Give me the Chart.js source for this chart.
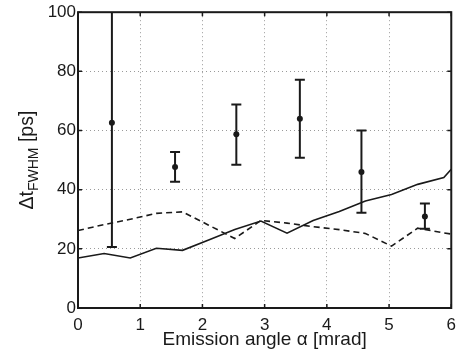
<!DOCTYPE html>
<html>
<head>
<meta charset="utf-8">
<script src="https://cdn.jsdelivr.net/npm/chart.js@4/dist/chart.umd.min.js"></script>
<style>
  html, body { margin: 0; padding: 0; background: #fff; }
  #wrap { width: 463px; height: 357px; }
</style>
</head>
<body>
<div id="wrap"><canvas id="fwhmChart" width="463" height="357"></canvas></div>
<script>
// simulated curves, sampled along the emission angle
const angleGrid = [0, 0.42, 0.84, 1.26, 1.68, 2.1, 2.52, 2.94, 3.36, 3.78, 4.2, 4.62, 5.04, 5.46, 5.88, 6.0];
const solidValues = [16.9, 18.4, 16.9, 20.2, 19.5, 23.0, 26.5, 29.4, 25.3, 29.6, 32.6, 36.2, 38.4, 41.8, 44.1, 46.9];
const dashedValues = [26.2, 28.2, 30.0, 32.0, 32.5, 28.0, 23.5, 29.6, 28.7, 27.5, 26.5, 25.2, 20.9, 27.0, 25.4, 25.0];

// measured points with error bars
const measAngles = [0.545, 1.56, 2.545, 3.566, 4.556, 5.576];
const measValues = [62.6, 47.7, 58.7, 64.0, 46.0, 30.9];
const measLow = [20.6, 42.7, 48.4, 50.8, 32.2, 26.8];
const measHigh = [104, 52.7, 68.8, 77.2, 60.0, 35.3];

const xTicks = [0, 1, 2, 3, 4, 5, 6];
const yTicks = [0, 20, 40, 60, 80, 100];

const FONT = 'Liberation Sans, Arial, Helvetica, sans-serif';
const INK = '#1a1a1a';

const toPoints = (xs, ys) => xs.map((x, i) => ({ x: x, y: ys[i] }));

const errorBars = {
  id: 'errorBars',
  afterDatasetsDraw(chart) {
    const { ctx, chartArea, scales } = chart;
    ctx.save();
    ctx.beginPath();
    ctx.rect(chartArea.left, chartArea.top, chartArea.right - chartArea.left, chartArea.bottom - chartArea.top);
    ctx.clip();
    ctx.strokeStyle = INK;
    ctx.lineWidth = 2;
    measAngles.forEach((a, i) => {
      const px = scales.x.getPixelForValue(a);
      const lo = scales.y.getPixelForValue(measLow[i]);
      const hi = scales.y.getPixelForValue(measHigh[i]);
      ctx.beginPath();
      ctx.moveTo(px, lo); ctx.lineTo(px, hi);
      ctx.moveTo(px - 5, lo); ctx.lineTo(px + 5, lo);
      ctx.moveTo(px - 5, hi); ctx.lineTo(px + 5, hi);
      ctx.stroke();
    });
    ctx.restore();
  }
};

const frame = {
  id: 'frame',
  afterDraw(chart) {
    const { ctx, chartArea: a, scales } = chart;
    ctx.save();
    ctx.strokeStyle = INK;
    ctx.lineWidth = 2;
    ctx.strokeRect(a.left, a.top, a.right - a.left, a.bottom - a.top);
    // inward tick marks on all four sides
    ctx.lineWidth = 1.5;
    ctx.beginPath();
    xTicks.forEach(v => {
      const px = scales.x.getPixelForValue(v);
      ctx.moveTo(px, a.bottom); ctx.lineTo(px, a.bottom - 4);
      ctx.moveTo(px, a.top); ctx.lineTo(px, a.top + 4);
    });
    yTicks.forEach(v => {
      const py = scales.y.getPixelForValue(v);
      ctx.moveTo(a.left, py); ctx.lineTo(a.left + 4, py);
      ctx.moveTo(a.right, py); ctx.lineTo(a.right - 4, py);
    });
    ctx.stroke();

    // y axis title with subscript
    const cy = (a.top + a.bottom) / 2;
    ctx.translate(33, cy);
    ctx.rotate(-Math.PI / 2);
    ctx.fillStyle = INK;
    ctx.textBaseline = 'alphabetic';
    const big = '19.5px ' + FONT, small = '14px ' + FONT;
    ctx.font = big;
    const w1 = ctx.measureText('\u0394t').width;
    const w3 = ctx.measureText(' [ps]').width;
    ctx.font = small;
    const w2 = ctx.measureText('FWHM').width;
    let x0 = -(w1 + w2 + w3) / 2;
    ctx.font = big;
    ctx.fillText('\u0394t', x0, 0);
    ctx.font = small;
    ctx.fillText('FWHM', x0 + w1, 5);
    ctx.font = big;
    ctx.fillText(' [ps]', x0 + w1 + w2, 0);
    ctx.restore();
  }
};

new Chart(document.getElementById('fwhmChart').getContext('2d'), {
  type: 'scatter',
  data: {
    datasets: [
      {
        label: 'measured',
        data: toPoints(measAngles, measValues),
        showLine: false,
        pointRadius: 3,
        pointBackgroundColor: INK,
        pointBorderColor: INK,
        pointBorderWidth: 0,
      },
      {
        label: 'solid',
        data: toPoints(angleGrid, solidValues),
        showLine: true,
        borderColor: INK,
        borderWidth: 1.6,
        pointRadius: 0,
        tension: 0,
      },
      {
        label: 'dashed',
        data: toPoints(angleGrid, dashedValues),
        showLine: true,
        borderColor: INK,
        borderWidth: 1.6,
        borderDash: [6, 4],
        pointRadius: 0,
        tension: 0,
      },
    ],
  },
  options: {
    responsive: false,
    animation: false,
    layout: { padding: { top: 10, right: 7, left: 0, bottom: 0 } },
    plugins: {
      legend: { display: false },
      tooltip: { enabled: false },
    },
    scales: {
      x: {
        type: 'linear',
        min: 0,
        max: 6,
        afterBuildTicks: s => { s.ticks = xTicks.map(v => ({ value: v })); },
        afterFit: s => { s.height = 49; },
        grid: { color: '#9a9a9a', lineWidth: 1, drawTicks: false },
        border: { display: false, dash: [1, 3] },
        ticks: { color: INK, font: { family: FONT, size: 17 }, padding: 7, maxRotation: 0 },
        title: {
          display: true,
          text: 'Emission angle \u03b1 [mrad]',
          color: INK,
          font: { family: FONT, size: 19 },
          padding: { top: 0, bottom: 6 },
        },
      },
      y: {
        type: 'linear',
        min: 0,
        max: 100,
        afterBuildTicks: s => { s.ticks = yTicks.map(v => ({ value: v })); },
        afterFit: s => { s.width = 78; },
        grid: { color: '#9a9a9a', lineWidth: 1, drawTicks: false },
        border: { display: false, dash: [1, 3] },
        ticks: { color: INK, font: { family: FONT, size: 17 }, padding: 2 },
      },
    },
  },
  plugins: [errorBars, frame],
});
</script>
</body>
</html>
